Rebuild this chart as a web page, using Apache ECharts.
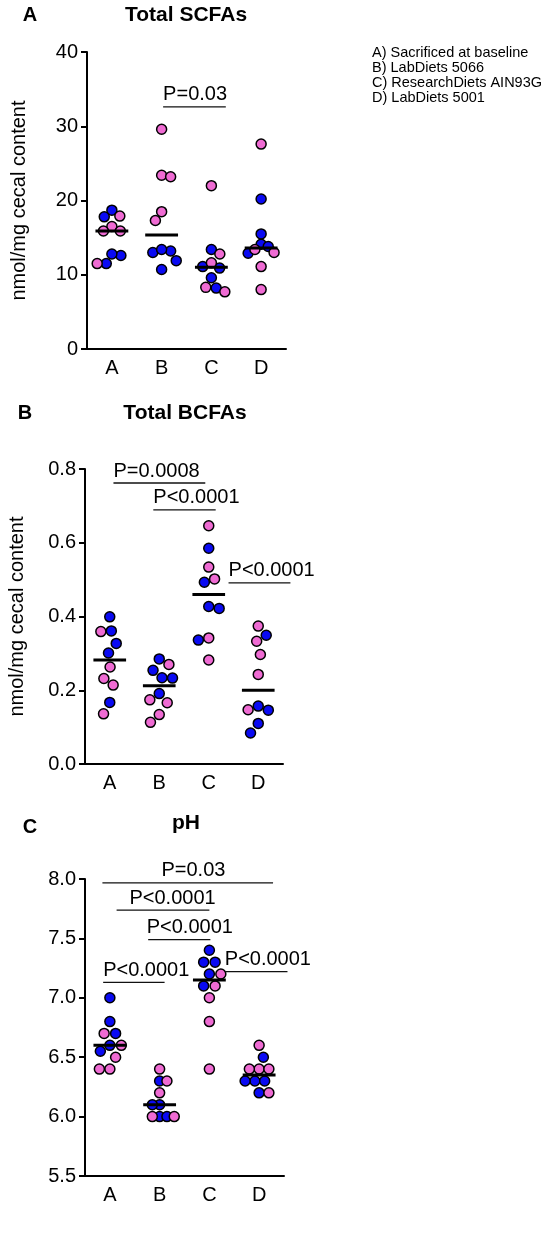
<!DOCTYPE html>
<html><head><meta charset="utf-8">
<script src="https://cdn.jsdelivr.net/npm/echarts@6/dist/echarts.min.js"></script>
<style>html,body{margin:0;padding:0;background:#fff}#c{width:551px;height:1235px}</style>
</head><body><div id="c"></div>
<script>
// ---------- data ----------
const groups = ['A', 'B', 'C', 'D'];
const legendLines = ['A) Sacrificed at baseline', 'B) LabDiets 5066', 'C) ResearchDiets AIN93G', 'D) LabDiets 5001'];

// Panel A: Total SCFAs (nmol/mg cecal content)
const scfaBlue = [[18.7, 17.8, 12.6, 12.8, 11.5], [13.2, 13.0, 13.4, 11.9, 10.7], [13.4, 10.9, 11.1, 9.6, 8.2], [20.2, 15.5, 14.1, 13.8, 12.9]];
const scfaPink = [[17.9, 16.5, 15.9, 15.9, 11.5], [29.6, 23.4, 23.2, 18.5, 17.3], [22.0, 12.8, 11.6, 8.3, 7.7], [27.6, 13.4, 13.0, 11.1, 8.0]];
const scfaSigLabels = ['P=0.03'];
const scfaSigFrom = [1.03];
const scfaSigTo = [2.29];
const scfaSigAt = [32.6];

// Panel B: Total BCFAs (nmol/mg cecal content)
const bcfaBlue = [[0.399, 0.361, 0.327, 0.301, 0.167], [0.285, 0.254, 0.233, 0.234, 0.191], [0.585, 0.493, 0.422, 0.427, 0.336], [0.349, 0.157, 0.146, 0.110, 0.084]];
const bcfaPink = [[0.359, 0.263, 0.232, 0.214, 0.136], [0.270, 0.174, 0.166, 0.134, 0.113], [0.646, 0.534, 0.502, 0.342, 0.282], [0.374, 0.333, 0.297, 0.243, 0.147]];
const bcfaSigLabels = ['P=0.0008', 'P<0.0001', 'P<0.0001'];
const bcfaSigFrom = [0.075, 0.88, 2.40];
const bcfaSigTo = [1.93, 2.14, 3.65];
const bcfaSigAt = [0.762, 0.689, 0.491];

// Panel C: pH
const phBlue = [[7.0, 6.8, 6.7, 6.6, 6.55], [6.3, 6.1, 6.1, 6.0, 6.0], [7.4, 7.3, 7.3, 7.2, 7.1], [6.5, 6.3, 6.3, 6.3, 6.2]];
const phPink = [[6.7, 6.6, 6.5, 6.4, 6.4], [6.4, 6.3, 6.2, 6.0, 6.0], [7.2, 7.1, 7.0, 6.8, 6.4], [6.6, 6.4, 6.4, 6.4, 6.2]];
const phSigLabels = ['P=0.03', 'P<0.0001', 'P<0.0001', 'P<0.0001', 'P<0.0001'];
const phSigFrom = [-0.15, 0.135, 0.77, -0.135, 2.31];
const phSigTo = [3.28, 2.0, 2.02, 1.10, 3.57];
const phSigAt = [7.967, 7.738, 7.49, 7.13, 7.22];

// ---------- layout / style ----------
const FONT = 'Arial, "Liberation Sans", Helvetica, sans-serif';
const BLUE = '#0a0af2', PINK = '#ef6bd3';
const SYM = 10, D = 10.5, VF = 1.35, CAP = 15;

const panels = [
  { grid: { left: 87, top: 52, width: 199, height: 297 }, min: 0, max: 40, interval: 10, dec: 0,
    name: 'nmol/mg cecal content', blue: scfaBlue, pink: scfaPink,
    sig: { labels: scfaSigLabels, from: scfaSigFrom, to: scfaSigTo, at: scfaSigAt, textX: scfaSigFrom, align: ['left'] },
    letter: { t: 'A', x: 30, y: 15 }, title: { t: 'Total SCFAs', x: 186, y: 15 } },
  { grid: { left: 85, top: 469, width: 198, height: 295 }, min: 0, max: 0.8, interval: 0.2, dec: 1,
    name: 'nmol/mg cecal content', blue: bcfaBlue, pink: bcfaPink,
    sig: { labels: bcfaSigLabels, from: bcfaSigFrom, to: bcfaSigTo, at: bcfaSigAt, textX: bcfaSigFrom, align: ['left', 'left', 'left'] },
    letter: { t: 'B', x: 25, y: 413 }, title: { t: 'Total BCFAs', x: 185, y: 413 } },
  { grid: { left: 85, top: 879, width: 199, height: 297 }, min: 5.5, max: 8.0, interval: 0.5, dec: 1,
    name: '', blue: phBlue, pink: phPink,
    sig: { labels: phSigLabels, from: phSigFrom, to: phSigTo, at: phSigAt, textX: [1.68, 1.26, 0.74, -0.135, 2.31], align: ['center', 'center', 'left', 'left', 'left'] },
    letter: { t: 'C', x: 30, y: 827 }, title: { t: 'pH', x: 186, y: 823 } }
];

function median(a) {
  const s = [...a].sort((x, y) => x - y), n = s.length;
  return n % 2 ? s[(n - 1) / 2] : (s[n / 2 - 1] + s[n / 2]) / 2;
}

// beeswarm with an elliptical exclusion zone (taller than wide): pixel x-offsets
function swarm(pts, pxU, d) {
  const dv = d * VF;
  const order = pts.map((p, i) => i).sort((a, b) => pts[b].v - pts[a].v);
  const placed = [];
  const xs = new Array(pts.length).fill(0);
  let lastSign = -1;
  const hits = (x, y) => placed.some(q => ((q.x - x) / d) ** 2 + ((q.y - y) / dv) ** 2 < 1 - 1e-6);
  order.forEach(idx => {
    const y = pts[idx].v * pxU;
    const cands = [0];
    placed.forEach(q => {
      const dy = Math.abs(q.y - y);
      if (dy < dv) { const dx = d * Math.sqrt(1 - (dy / dv) ** 2); cands.push(q.x + dx, q.x - dx); }
    });
    const ok = cands.filter(x => !hits(x, y));
    ok.sort((a, b) => {
      const da = Math.abs(a) - Math.abs(b);
      if (Math.abs(da) > 1e-6) return da;
      return (Math.sign(b) === -lastSign) - (Math.sign(a) === -lastSign);
    });
    const x = ok[0];
    if (Math.abs(x) > 1e-6) lastSign = Math.sign(x);
    xs[idx] = x;
    placed.push({ x, y });
  });
  return xs;
}

const option = { animation: false, backgroundColor: '#fff', grid: [], xAxis: [], yAxis: [], series: [], graphic: [] };

panels.forEach((P, k) => {
  option.grid.push(Object.assign({}, P.grid));
  option.xAxis.push({
    gridIndex: k, type: 'category', data: groups, boundaryGap: true,
    axisLine: { onZero: false, lineStyle: { color: '#000', width: 2 } },
    axisTick: { alignWithLabel: true, length: 6, lineStyle: { color: '#000', width: 2 } },
    axisLabel: { color: '#000', fontSize: 20, fontFamily: FONT, margin: 9 },
    splitLine: { show: false }
  });
  option.xAxis.push({ gridIndex: k, type: 'value', min: -0.5, max: 3.5, show: false, axisLine: { onZero: false } });
  option.yAxis.push({
    gridIndex: k, type: 'value', min: P.min, max: P.max, interval: P.interval, position: 'left',
    name: P.name, nameLocation: 'middle', nameGap: 58,
    nameTextStyle: { color: '#000', fontSize: 20, fontFamily: FONT },
    axisLine: { show: true, onZero: false, lineStyle: { color: '#000', width: 2 } },
    axisTick: { show: true, length: 6, lineStyle: { color: '#000', width: 2 } },
    axisLabel: { color: '#000', fontSize: 20, fontFamily: FONT, margin: 9, formatter: v => v.toFixed(P.dec) },
    splitLine: { show: false }
  });
  const pxU = P.grid.height / (P.max - P.min);
  const catW = P.grid.width / groups.length;
  const blueData = [], pinkData = [], medData = [];
  groups.forEach((g, i) => {
    const pts = P.blue[i].map(v => ({ v, c: 'b' })).concat(P.pink[i].map(v => ({ v, c: 'p' })));
    let d = D, xs;
    for (;;) {
      xs = swarm(pts, pxU, d);
      if (Math.max(...xs.map(Math.abs)) <= CAP || d < 4) break;
      d *= 0.93;
    }
    pts.forEach((p, j) => {
      const item = [i + xs[j] / catW, p.v];
      (p.c === 'b' ? blueData : pinkData).push(item);
    });
    medData.push([i, median(pts.map(p => p.v))]);
  });
  const xi = 2 * k + 1;
  const sc = (data, color) => ({
    type: 'scatter', xAxisIndex: xi, yAxisIndex: k, data, symbol: 'circle', symbolSize: SYM, z: 3,
    itemStyle: { color, borderColor: '#000', borderWidth: 1.5, opacity: 1 }, emphasis: { disabled: true }
  });
  option.series.push(sc(blueData, BLUE), sc(pinkData, PINK));
  option.series.push({
    type: 'custom', xAxisIndex: xi, yAxisIndex: k, data: medData, z: 5, encode: { x: 0, y: 1 },
    renderItem: (params, api) => {
      const a = api.coord([api.value(0) - 0.33, api.value(1)]);
      const b = api.coord([api.value(0) + 0.33, api.value(1)]);
      return { type: 'line', shape: { x1: a[0], y1: a[1], x2: b[0], y2: b[1] }, style: { stroke: '#000', lineWidth: 3 } };
    }
  });
  const S = P.sig;
  const sigData = S.labels.map((l, j) => [S.from[j], S.to[j], S.at[j], S.textX[j]]);
  option.series.push({
    type: 'custom', xAxisIndex: xi, yAxisIndex: k, data: sigData, z: 6, clip: false, encode: { x: [0, 1], y: 2 },
    renderItem: (params, api) => {
      const j = params.dataIndex;
      const a = api.coord([api.value(0), api.value(2)]);
      const b = api.coord([api.value(1), api.value(2)]);
      const t = api.coord([api.value(3), api.value(2)]);
      return {
        type: 'group', children: [
          { type: 'line', shape: { x1: a[0], y1: a[1], x2: b[0], y2: b[1] }, style: { stroke: '#111', lineWidth: 1.3 } },
          { type: 'text', x: t[0], y: t[1] - 2, style: { text: S.labels[j], font: '20px ' + FONT, fill: '#000',
            align: S.align[j], textAlign: S.align[j], verticalAlign: 'bottom', textVerticalAlign: 'bottom' } }
        ]
      };
    }
  });
  const txt = (o, size) => ({ type: 'text', x: o.x, y: o.y, style: { text: o.t, font: 'bold ' + size + 'px ' + FONT, fill: '#000',
    align: 'center', textAlign: 'center', verticalAlign: 'middle', textVerticalAlign: 'middle' } });
  option.graphic.push(txt(P.letter, 20), txt(P.title, 21));
});

option.graphic.push({
  type: 'text', x: 372, y: 45,
  style: { text: legendLines.join('\n'), font: '14.5px ' + FONT, lineHeight: 15, fill: '#000',
    align: 'left', textAlign: 'left', verticalAlign: 'top', textVerticalAlign: 'top' }
});

const chart = echarts.init(document.getElementById('c'));
chart.setOption(option);
</script>
</body></html>
